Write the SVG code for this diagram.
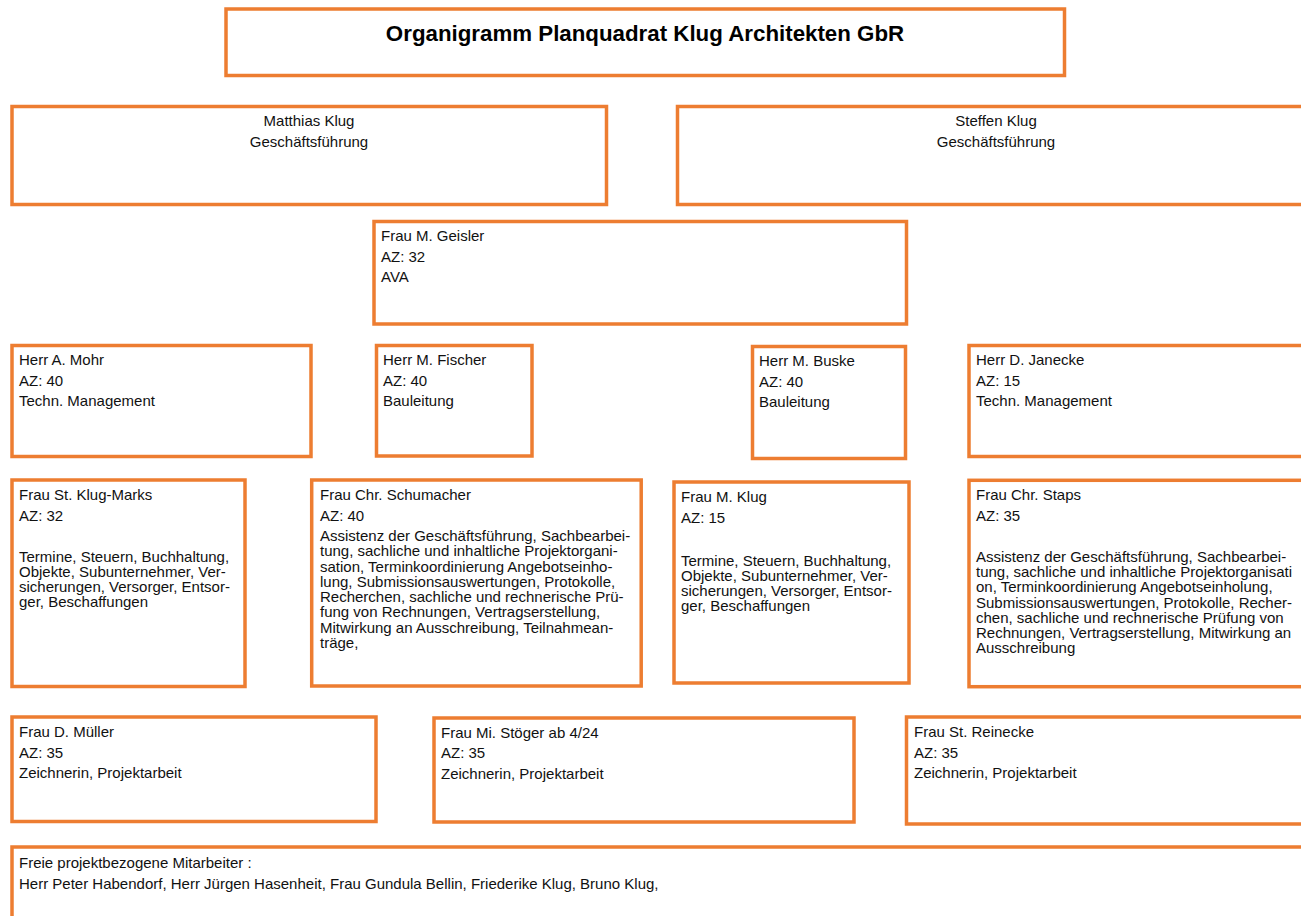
<svg xmlns="http://www.w3.org/2000/svg" width="1301" height="916" viewBox="0 0 1301 916">
<style>
.box{fill:#fff;stroke:#ED7D31;stroke-width:3.5}
text{font-family:"Liberation Sans",Arial,sans-serif;font-size:15px;fill:#111}
.title{font-size:22.3px;font-weight:bold;fill:#000}
.c{text-anchor:middle}
</style>
<rect x="0" y="0" width="1301" height="916" fill="#fff"/>
<g id="connectors"></g>
<g id="title">
<rect class="box" x="226" y="9" width="838.5" height="66.5"/>
<text class="title c" x="645" y="41">Organigramm Planquadrat Klug Architekten GbR</text>
</g>
<g id="matthias-klug">
<rect class="box" x="12" y="106.5" width="594.5" height="98"/>
<text class="c" x="309" y="126">Matthias Klug</text>
<text class="c" x="309" y="147">Geschäftsführung</text>
</g>
<g id="steffen-klug">
<rect class="box" x="677.5" y="106.5" width="700" height="98"/>
<text class="c" x="996" y="126">Steffen Klug</text>
<text class="c" x="996" y="147">Geschäftsführung</text>
</g>
<g id="geisler">
<rect class="box" x="374" y="221.5" width="532.5" height="102.5"/>
<text x="381" y="241">Frau M. Geisler</text>
<text x="381" y="261.5">AZ: 32</text>
<text x="381" y="282">AVA</text>
</g>
<g id="mohr">
<rect class="box" x="12" y="345.5" width="299" height="111"/>
<text x="19" y="365">Herr A. Mohr</text>
<text x="19" y="385.5">AZ: 40</text>
<text x="19" y="406">Techn. Management</text>
</g>
<g id="fischer">
<rect class="box" x="376.5" y="345.5" width="155.5" height="110.5"/>
<text x="383" y="365">Herr M. Fischer</text>
<text x="383" y="385.5">AZ: 40</text>
<text x="383" y="406">Bauleitung</text>
</g>
<g id="buske">
<rect class="box" x="752.5" y="346.5" width="153" height="112"/>
<text x="759" y="366">Herr M. Buske</text>
<text x="759" y="386.5">AZ: 40</text>
<text x="759" y="407">Bauleitung</text>
</g>
<g id="janecke">
<rect class="box" x="969" y="345.5" width="400" height="111"/>
<text x="976" y="365">Herr D. Janecke</text>
<text x="976" y="385.5">AZ: 15</text>
<text x="976" y="406">Techn. Management</text>
</g>
<g id="klug-marks">
<rect class="box" x="12" y="480" width="233" height="206.5"/>
<text x="19" y="500">Frau St. Klug-Marks</text>
<text x="19" y="520.7">AZ: 32</text>
<text x="19" y="562">Termine, Steuern, Buchhaltung,</text>
<text x="19" y="577">Objekte, Subunternehmer, Ver-</text>
<text x="19" y="592">sicherungen, Versorger, Entsor-</text>
<text x="19" y="607">ger, Beschaffungen</text>
</g>
<g id="schumacher">
<rect class="box" x="311.7" y="480" width="329.5" height="206"/>
<text x="320" y="500">Frau Chr. Schumacher</text>
<text x="320" y="520.7">AZ: 40</text>
<text x="320" y="541">Assistenz der Geschäftsführung, Sachbearbei-</text>
<text x="320" y="556.3">tung, sachliche und inhaltliche Projektorgani-</text>
<text x="320" y="571.5">sation, Terminkoordinierung Angebotseinho-</text>
<text x="320" y="586.8">lung, Submissionsauswertungen, Protokolle,</text>
<text x="320" y="602">Recherchen, sachliche und rechnerische Prü-</text>
<text x="320" y="617.3">fung von Rechnungen, Vertragserstellung,</text>
<text x="320" y="632.5">Mitwirkung an Ausschreibung, Teilnahmean-</text>
<text x="320" y="647.7">träge,</text>
</g>
<g id="m-klug">
<rect class="box" x="674" y="482" width="235" height="201"/>
<text x="681" y="502">Frau M. Klug</text>
<text x="681" y="523">AZ: 15</text>
<text x="681" y="565.5">Termine, Steuern, Buchhaltung,</text>
<text x="681" y="580.5">Objekte, Subunternehmer, Ver-</text>
<text x="681" y="595.5">sicherungen, Versorger, Entsor-</text>
<text x="681" y="610.5">ger, Beschaffungen</text>
</g>
<g id="staps">
<rect class="box" x="969" y="480.3" width="400" height="206.4"/>
<text x="976" y="500">Frau Chr. Staps</text>
<text x="976" y="520.7">AZ: 35</text>
<text x="976" y="562">Assistenz der Geschäftsführung, Sachbearbei-</text>
<text x="976" y="577.2">tung, sachliche und inhaltliche Projektorganisati</text>
<text x="976" y="592.4">on, Terminkoordinierung Angebotseinholung,</text>
<text x="976" y="607.6">Submissionsauswertungen, Protokolle, Recher-</text>
<text x="976" y="622.8">chen, sachliche und rechnerische Prüfung von</text>
<text x="976" y="638">Rechnungen, Vertragserstellung, Mitwirkung an</text>
<text x="976" y="653.2">Ausschreibung</text>
</g>
<g id="mueller">
<rect class="box" x="12" y="717" width="364" height="104.5"/>
<text x="19" y="737">Frau D. Müller</text>
<text x="19" y="757.5">AZ: 35</text>
<text x="19" y="778">Zeichnerin, Projektarbeit</text>
</g>
<g id="stoeger">
<rect class="box" x="434" y="718" width="420" height="104"/>
<text x="441" y="737.5">Frau Mi. Stöger ab 4/24</text>
<text x="441" y="758">AZ: 35</text>
<text x="441" y="778.5">Zeichnerin, Projektarbeit</text>
</g>
<g id="reinecke">
<rect class="box" x="906.5" y="717" width="500" height="107"/>
<text x="914" y="737">Frau St. Reinecke</text>
<text x="914" y="757.5">AZ: 35</text>
<text x="914" y="778">Zeichnerin, Projektarbeit</text>
</g>
<g id="freie">
<rect class="box" x="12" y="847" width="1400" height="200"/>
<text x="19" y="867.5">Freie projektbezogene Mitarbeiter :</text>
<text x="19" y="888.5">Herr Peter Habendorf, Herr Jürgen Hasenheit, Frau Gundula Bellin, Friederike Klug, Bruno Klug,</text>
</g>
</svg>
